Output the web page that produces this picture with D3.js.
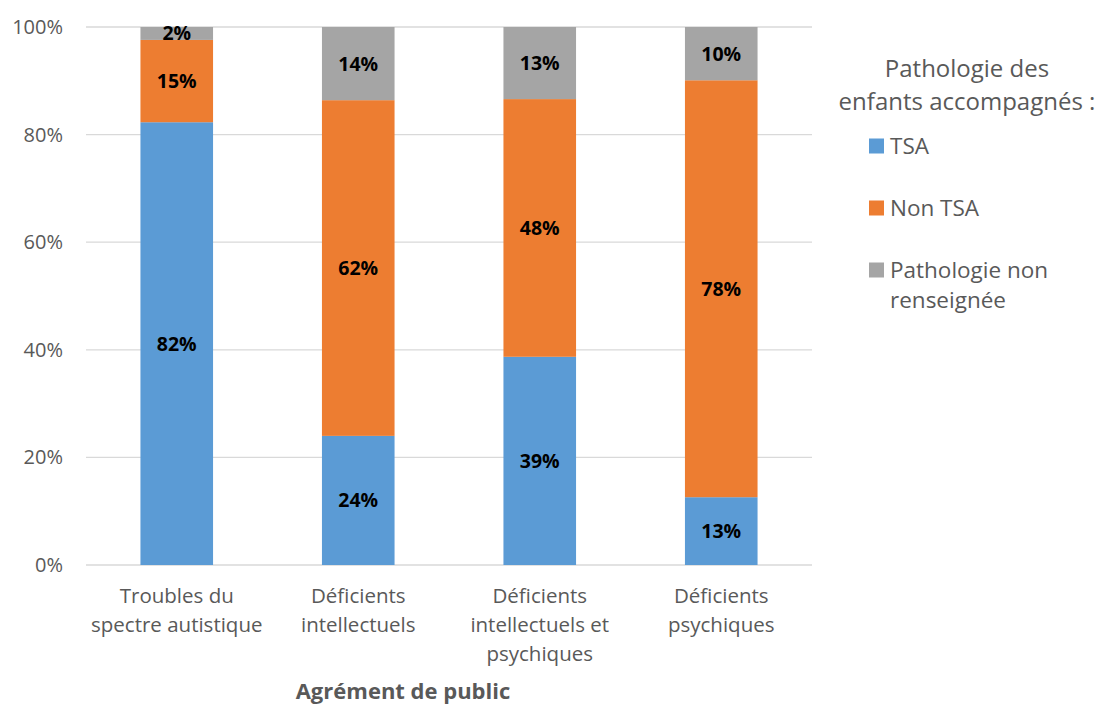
<!DOCTYPE html>
<html>
<head>
<meta charset="utf-8">
<script src="https://cdn.jsdelivr.net/npm/d3@7"></script>
<style>
  body { margin: 0; background: #fff; }
  svg { display: block; font-family: "Open Sans", "Noto Sans", sans-serif; }
</style>
</head>
<body>
<svg id="chart" width="1100" height="705"></svg>
<script>
// Catégories d'agrément (libellés sur plusieurs lignes)
const categories = [
  ["Troubles du", "spectre autistique"],
  ["Déficients", "intellectuels"],
  ["Déficients", "intellectuels et", "psychiques"],
  ["Déficients", "psychiques"]
];
// Séries (en %)
const seriesNames = ["TSA", "Non TSA", "Pathologie non renseignée"];
const tsa = [82.3, 24.0, 38.7, 12.6];
const nonTsa = [15.3, 62.4, 47.9, 77.5];
const nonRenseignee = [2.4, 13.6, 13.4, 9.9];
const yTicks = [0, 20, 40, 60, 80, 100];
const colors = ["#5B9BD5", "#ED7D31", "#A5A5A5"];

const svg = d3.select("#chart");
const margin = { left: 86, right: 288, top: 27, bottom: 140 };
const W = 1100, H = 705;

const rows = categories.map((c, i) => ({
  key: i,
  "TSA": tsa[i],
  "Non TSA": nonTsa[i],
  "Pathologie non renseignée": nonRenseignee[i]
}));
const stacked = d3.stack().keys(seriesNames)(rows);

const x = d3.scaleBand()
  .domain(categories.map((c, i) => i))
  .range([margin.left, W - margin.right])
  .paddingInner(0.6)
  .paddingOuter(0.3);
const y = d3.scaleLinear().domain([0, 100]).range([H - margin.bottom, margin.top]);

// Grille horizontale
svg.append("g")
  .selectAll("line")
  .data(yTicks)
  .join("line")
  .attr("x1", margin.left)
  .attr("x2", W - margin.right)
  .attr("y1", d => y(d))
  .attr("y2", d => y(d))
  .attr("stroke", "#D9D9D9")
  .attr("stroke-width", 1.3);

// Axe Y
const yAxis = svg.append("g")
  .attr("transform", `translate(${margin.left},0)`)
  .call(d3.axisLeft(y).tickValues(yTicks).tickFormat(d => d + "%").tickSize(0).tickPadding(23));
yAxis.select(".domain").remove();
yAxis.selectAll("text")
  .attr("fill", "#595959")
  .style("font-size", "20px")
  .attr("font-family", "'Open Sans', sans-serif");

// Barres empilées
const layers = svg.append("g")
  .selectAll("g")
  .data(stacked)
  .join("g")
  .attr("fill", (d, i) => colors[i]);

layers.selectAll("rect")
  .data(d => d)
  .join("rect")
  .attr("x", d => x(d.data.key))
  .attr("width", x.bandwidth())
  .attr("y", d => y(d[1]))
  .attr("height", d => y(d[0]) - y(d[1]));

// Étiquettes de valeurs
layers.selectAll("text")
  .data(d => d)
  .join("text")
  .attr("x", d => x(d.data.key) + x.bandwidth() / 2)
  .attr("y", d => (y(d[0]) + y(d[1])) / 2)
  .attr("dy", "0.36em")
  .attr("text-anchor", "middle")
  .attr("fill", "#000")
  .style("font-size", "19.5px")
  .style("font-weight", "700")
  .text(d => Math.round(d[1] - d[0]) + "%");

// Libellés des catégories
const xLabels = svg.append("g")
  .selectAll("text")
  .data(categories)
  .join("text")
  .attr("x", (d, i) => x(i) + x.bandwidth() / 2)
  .attr("y", H - margin.bottom + 38)
  .attr("text-anchor", "middle")
  .attr("fill", "#595959")
  .style("font-size", "20.5px");
xLabels.selectAll("tspan")
  .data(d => d)
  .join("tspan")
  .attr("x", function () { return this.parentNode.getAttribute("x"); })
  .attr("dy", (d, j) => j === 0 ? 0 : 29)
  .text(d => d);

// Titre de l'axe X
svg.append("text")
  .attr("x", 403)
  .attr("y", 699)
  .attr("text-anchor", "middle")
  .attr("fill", "#595959")
  .style("font-size", "22px")
  .style("font-weight", "700")
  .text("Agrément de public");

// Légende
const legend = svg.append("g");
legend.append("text")
  .attr("x", 967)
  .attr("y", 77)
  .attr("text-anchor", "middle")
  .attr("fill", "#595959")
  .style("font-size", "24px")
  .selectAll("tspan")
  .data(["Pathologie des", "enfants accompagnés :"])
  .join("tspan")
  .attr("x", 967)
  .attr("dy", (d, j) => j === 0 ? 0 : 33)
  .text(d => d);

const legendLabels = [["TSA"], ["Non TSA"], ["Pathologie non", "renseignée"]];
const legendY = [146, 208, 270];
const items = legend.selectAll("g.item")
  .data(seriesNames)
  .join("g")
  .attr("class", "item")
  .attr("transform", (d, i) => `translate(869,${legendY[i]})`);
items.append("rect")
  .attr("x", 0)
  .attr("y", -7.5)
  .attr("width", 15)
  .attr("height", 15)
  .attr("fill", (d, i) => colors[i]);
items.append("text")
  .attr("x", 21)
  .attr("y", 0)
  .attr("fill", "#595959")
  .style("font-size", "22.5px")
  .selectAll("tspan")
  .data((d, i) => legendLabels[i])
  .join("tspan")
  .attr("x", 21)
  .attr("dy", (d, j) => j === 0 ? "0.35em" : 30)
  .text(d => d);
</script>
</body>
</html>
